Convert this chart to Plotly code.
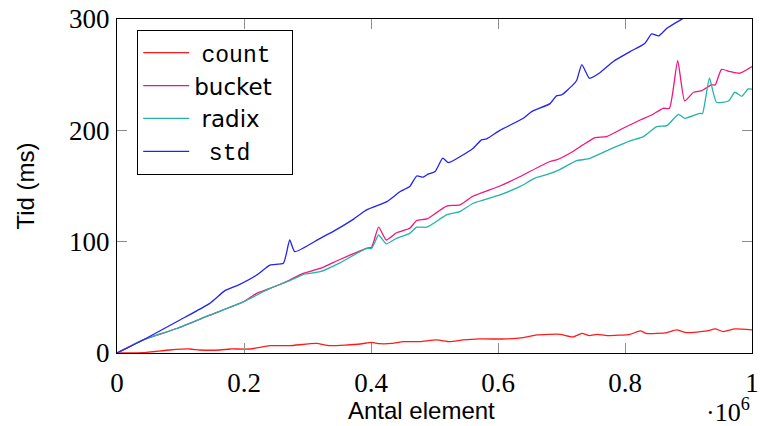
import plotly.graph_objects as go

# x values in millions of elements, y in ms
count_x = [0, 0.041, 0.083, 0.115, 0.13, 0.162, 0.178, 0.209, 0.241, 0.272, 0.314, 0.335, 0.383, 0.401, 0.413, 0.433, 0.451, 0.477, 0.503, 0.524, 0.545, 0.572, 0.614, 0.640, 0.661, 0.698, 0.718, 0.732, 0.744, 0.756, 0.772, 0.808, 0.824, 0.835, 0.866, 0.881, 0.897, 0.929, 0.942, 0.955, 0.973, 1.0]
count_y = [0, 0.3, 2.7, 3.6, 2.7, 2.7, 3.6, 3.6, 6.6, 6.6, 8.6, 6.6, 8.1, 9.6, 8.4, 8.6, 10.2, 10.2, 11.7, 10.2, 11.7, 12.6, 12.6, 13.8, 16.2, 16.8, 14.4, 17.6, 15.6, 16.8, 15.6, 16.8, 19.8, 17.4, 18.3, 20.7, 18.3, 19.8, 21.6, 19.2, 21.6, 20.7]

bucket_x = [0, 0.041, 0.094, 0.146, 0.199, 0.220, 0.241, 0.272, 0.293, 0.320, 0.351, 0.393, 0.401, 0.412, 0.424, 0.440, 0.461, 0.472, 0.488, 0.519, 0.540, 0.561, 0.603, 0.635, 0.650, 0.682, 0.692, 0.718, 0.734, 0.753, 0.771, 0.797, 0.824, 0.842, 0.860, 0.870, 0.883, 0.894, 0.908, 0.921, 0.936, 0.942, 0.952, 0.965, 0.981, 1.0]
bucket_y = [0, 11.7, 22, 34, 46, 53.6, 58, 65.6, 71.6, 76, 84, 94, 95, 113, 101.5, 108, 112, 119, 120.4, 132, 133, 141, 150, 158.5, 163, 172, 173.4, 181, 187, 193.5, 194.4, 201.9, 209.3, 213.8, 219.8, 219.8, 262.7, 226.4, 234.2, 235.7, 240.8, 240.8, 254.8, 252.8, 251.3, 257.3]

radix_x = [0, 0.01, 0.041, 0.094, 0.146, 0.199, 0.241, 0.272, 0.293, 0.320, 0.351, 0.393, 0.401, 0.412, 0.424, 0.440, 0.461, 0.472, 0.488, 0.519, 0.540, 0.561, 0.603, 0.635, 0.658, 0.679, 0.698, 0.724, 0.742, 0.776, 0.808, 0.829, 0.850, 0.866, 0.884, 0.894, 0.918, 0.922, 0.933, 0.944, 0.963, 0.973, 0.984, 0.994, 1.0]
radix_y = [0, 2.7, 11.7, 22, 34, 46, 58, 65, 70.5, 73, 81, 94, 94, 106, 98, 103, 107.5, 113, 113, 124, 127, 134.5, 142, 149.6, 157, 160.6, 165, 172.8, 174.3, 182.9, 190.5, 194.4, 203.3, 204.2, 214.4, 210.8, 215.3, 215, 246.8, 225.2, 226.4, 234.2, 230.6, 237.2, 237]

std_x = [0, 0.041, 0.099, 0.146, 0.170, 0.191, 0.220, 0.241, 0.262, 0.272, 0.280, 0.320, 0.340, 0.372, 0.393, 0.425, 0.446, 0.461, 0.472, 0.482, 0.490, 0.501, 0.513, 0.522, 0.561, 0.574, 0.582, 0.603, 0.640, 0.653, 0.682, 0.692, 0.700, 0.718, 0.724, 0.732, 0.744, 0.761, 0.782, 0.808, 0.831, 0.842, 0.853, 0.866, 0.889, 0.95, 1.0]
std_y = [0, 11.7, 29.6, 44.6, 56, 61, 70, 79, 80.6, 101.5, 91, 103, 109, 120, 128.5, 136, 145, 149.5, 159, 158, 160.6, 163, 175, 171, 184, 191.4, 192.3, 200, 210.8, 216.8, 224, 231, 231.8, 240.8, 245, 259, 246.8, 252, 262, 270.7, 278, 286.6, 284.8, 291.6, 299.7, 318, 334]

x_tickvals = [0, 0.2, 0.4, 0.6, 0.8, 1.0]
x_ticktext = ["0", "0.2", "0.4", "0.6", "0.8", "1"]
y_tickvals = [0, 100, 200, 300]

NB = "\u00a0"
MONO = "Liberation Mono"
series = [
    ("count", count_x, count_y, "#ff1a1a", f'{NB}<span style="font-family:{MONO};font-size:23px">count</span>'),
    ("bucket", bucket_x, bucket_y, "#f2137f", f"bucket{NB}{NB}"),
    ("radix", radix_x, radix_y, "#22b5a5", f'{NB}radix'),
    ("std", std_x, std_y, "#2323f0", f'{NB*2}<span style="font-family:{MONO};font-size:23px">std</span>'),
]

fig = go.Figure()
for key, xs, ys, col, label in series:
    fig.add_trace(go.Scatter(
        x=[v * 1e6 for v in xs], y=ys, mode="lines", name=label,
        line=dict(color=col, width=1.3, shape="spline", smoothing=0.5),
    ))

SERIF = "Liberation Serif"
SANS = "Liberation Sans"
axis_common = dict(
    showline=True, linecolor="black", linewidth=1.2, mirror="allticks",
    ticks="inside", ticklen=10, tickcolor="#8c8c8c", tickwidth=1.2,
    showgrid=False, zeroline=False, automargin=False,
    ticklabeloverflow="allow",
    tickfont=dict(family=SERIF, size=27, color="black"),
)
fig.update_xaxes(
    range=[0, 1e6], tickvals=[v * 1e6 for v in x_tickvals], ticktext=x_ticktext,
    ticklabelstandoff=5,
    **axis_common,
)
fig.update_yaxes(
    range=[0, 300], tickvals=y_tickvals,
    title=dict(text="Tid (ms)", font=dict(family=SANS, size=24, color="black"), standoff=27),
    ticklabelstandoff=1,
    **axis_common,
)
# x-axis title, placed slightly left of centre as in the reference
fig.add_annotation(
    xref="paper", yref="paper", x=0.48, y=-0.171, xanchor="center", yanchor="middle",
    text="Antal element", showarrow=False,
    font=dict(family=SANS, size=24, color="black"),
)
fig.add_annotation(
    xref="paper", yref="paper", x=1.0, y=-0.171, xanchor="right", yanchor="middle",
    text="·10<sup>6</sup>", showarrow=False,
    font=dict(family=SERIF, size=26, color="black"),
)
fig.update_layout(
    width=760, height=426,
    margin=dict(l=117, r=8, t=19, b=73),
    paper_bgcolor="white", plot_bgcolor="white",
    legend=dict(
        x=0.0315, y=0.967, xanchor="left", yanchor="top",
        bordercolor="black", borderwidth=1.2, bgcolor="white",
        font=dict(family="DejaVu Sans", size=23, color="black"),
        itemwidth=46, tracegroupgap=0,
    ),
    showlegend=True,
)
# remove the page's default body margin so the 760x426 figure fills the window
fig.write_html(
    "out.html",
    config={"displayModeBar": False},
    post_script="document.body.style.margin='0';document.body.style.overflow='hidden';",
)
